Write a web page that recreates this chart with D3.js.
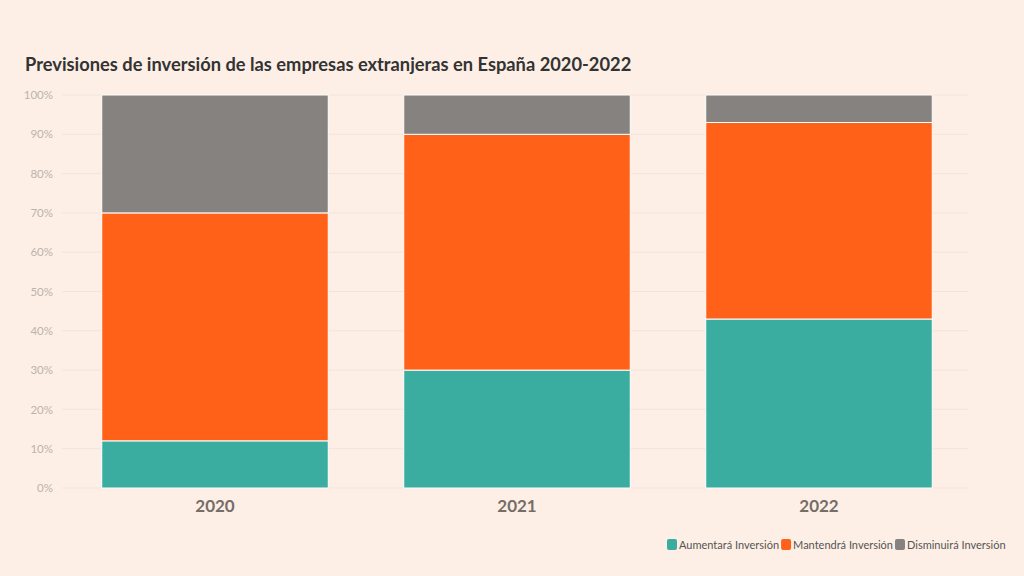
<!DOCTYPE html>
<html><head><meta charset="utf-8">
<script src="https://cdn.jsdelivr.net/npm/d3@7"></script>
<style>
body{margin:0;background:#fdefe5;}
svg{display:block;}
svg text{font-family:Lato,"Open Sans",sans-serif;}
</style></head><body>
<svg id="c" width="1024" height="576"></svg>
<script>
const years = ["2020","2021","2022"];
const seriesNames = ["Aumentará Inversión","Mantendrá Inversión","Disminuirá Inversión"];
const aumentara = [12,30,43];
const mantendra = [58,60,50];
const disminuira = [30,10,7];
const colors = ["#3aaca0","#ff6119","#858280"];
const yTicks = [0,10,20,30,40,50,60,70,80,90,100];

const rows = years.map((y,i)=>({year:y, a:aumentara[i], m:mantendra[i], d:disminuira[i]}));
const svg = d3.select("#c");
svg.append("rect").attr("width",1024).attr("height",576).attr("fill","#fdefe5");

svg.append("text").attr("x",25).attr("y",71).attr("font-size",18.3).attr("font-weight",700)
  .attr("fill","#333").text("Previsiones de inversión de las empresas extranjeras en España 2020-2022");

const x = d3.scaleBand().domain(years).range([64,970]).paddingInner(0.25).paddingOuter(0.125);
const y = d3.scaleLinear().domain([0,100]).range([488,95]);

const grid = svg.append("g");
grid.selectAll("line").data(yTicks).join("line")
  .attr("x1",62).attr("x2",968).attr("y1",d=>y(d)).attr("y2",d=>y(d))
  .attr("stroke","#f5e3d8").attr("stroke-width",1);

const yAxis = svg.append("g").attr("transform","translate(56,0)")
  .call(d3.axisLeft(y).tickValues(yTicks).tickFormat(d=>d+"%").tickSize(0));
yAxis.attr("font-family",null);
yAxis.select(".domain").remove();
yAxis.selectAll("text").attr("fill","#bcb3ad").attr("font-size",11.5);

const stack = d3.stack().keys(["a","m","d"]);
const layers = stack(rows);
svg.append("g").selectAll("g").data(layers).join("g")
  .attr("fill",(d,i)=>colors[i])
  .selectAll("rect").data(d=>d).join("rect")
  .attr("x",d=>x(d.data.year)).attr("width",x.bandwidth())
  .attr("y",d=>y(d[1])).attr("height",d=>y(d[0])-y(d[1]))
  .attr("stroke","#ffffff").attr("stroke-width",1);

const xAxis = svg.append("g").attr("transform","translate(0,488)")
  .call(d3.axisBottom(x).tickSize(0).tickPadding(12));
xAxis.attr("font-family",null);
xAxis.select(".domain").remove();
xAxis.selectAll("text").attr("fill","#756d68").attr("font-size",17).attr("font-weight",700);

// legend
const legend = svg.append("g").attr("transform","translate(0,545)");
let lx = 667;
seriesNames.forEach((n,i)=>{
  const g = legend.append("g").attr("transform",`translate(${lx},0)`);
  g.append("rect").attr("x",0).attr("y",-6).attr("width",10).attr("height",11).attr("rx",2).attr("fill",colors[i]);
  const t = g.append("text").attr("x",12).attr("y",4).attr("font-size",11).attr("fill","#555").text(n);
  lx += t.node().getComputedTextLength() + 14;
});
</script>
</body></html>
